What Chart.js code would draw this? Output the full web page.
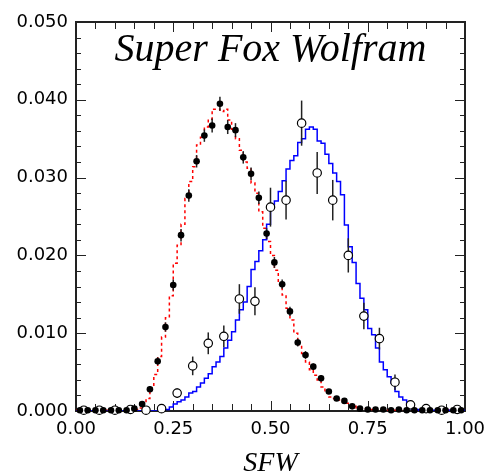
<!DOCTYPE html>
<html>
<head>
<meta charset="utf-8">
<script src="https://cdn.jsdelivr.net/npm/chart.js@4.4.1/dist/chart.umd.min.js"></script>
<style>
  html, body { margin: 0; padding: 0; background: #fff; }
  canvas { display: block; }
</style>
</head>
<body>
<canvas id="c" width="487" height="475"></canvas>
<script>
// histogram bins (MC), width 0.01, left edge = index * 0.01
const redHist = [
  0.0001,0.0001,0.0001,0.0001,0.0001,0.0001,0.0001,0.0001,0.0001,0.0001,
  0.0001,0.0001,0.0001,0.0001,0.0001,0.0002,0.0004,0.0009,0.0016,0.0030,
  0.0047,0.0070,0.0095,0.0120,0.0148,0.0190,0.0213,0.0240,0.0273,0.0295,
  0.0314,0.0342,0.0352,0.0365,0.0375,0.0388,0.0388,0.0385,0.0388,0.0374,
  0.0362,0.0350,0.0335,0.0320,0.0312,0.0293,0.0280,0.0256,0.0235,0.0218,
  0.0200,0.0181,0.0164,0.0149,0.0132,0.0117,0.0100,0.0085,0.0074,0.0063,
  0.0053,0.0046,0.0040,0.0031,0.0025,0.0018,0.0016,0.0014,0.0012,0.0010,
  0.0008,0.0006,0.0004,0.0003,0.0003,0.0002,0.0002,0.0001,0.0001,0.0001,
  0.0001,0.0001,0.0001,0.0001,0.0001,0.0001,0.0001,0.0001,0.0001,0.0001,
  0.0001,0.0001,0.0001,0.0001,0.0001,0.0001,0.0001,0.0001,0.0001,0.0001
];
const blueHist = [
  0,0,0,0,0,0,0,0,0,0,
  0,0,0,0,0,0,0,0,0,0,
  0,0,0.0002,0.0002,0.0005,0.0009,0.0012,0.0014,0.0018,0.0023,
  0.0025,0.0031,0.0036,0.0042,0.0048,0.0057,0.0063,0.0070,0.0081,0.0091,
  0.0102,0.0117,0.0130,0.0140,0.0160,0.0182,0.0192,0.0206,0.0220,0.0240,
  0.0265,0.0270,0.0282,0.0296,0.0311,0.0322,0.0328,0.0345,0.0350,0.0362,
  0.0365,0.0362,0.0347,0.0344,0.0330,0.0318,0.0306,0.0295,0.0278,0.0239,
  0.0211,0.0191,0.0164,0.0145,0.0130,0.0106,0.0098,0.0081,0.0063,0.0053,
  0.0044,0.0036,0.0025,0.0018,0.0014,0.0010,0.0003,0.0002,0.0001,0.0001,
  0.0001,0.0001,0.0001,0.0001,0.0001,0.0001,0.0001,0.0001,0.0001,0.0001
];
const histBinWidth = 0.01;

// filled points, centres 0.01, 0.03 ... 0.99
const filledY = [
  0.0001,0.0001,0.0001,0.0001,0.0001,0.0001,0.0001,0.0003,0.0009,0.0028,
  0.0064,0.0108,0.0162,0.0226,0.0277,0.0321,0.0354,0.0367,0.0395,0.0365,
  0.0361,0.0326,0.0305,0.0274,0.0228,0.0191,0.0163,0.0128,0.0088,0.0072,
  0.0057,0.0042,0.0025,0.0016,0.0013,0.0006,0.0003,0.0002,0.0002,0.0002,
  0.0001,0.0002,0.0001,0.0001,0.0001,0.0001,0.0001,0.0001,0.0001,0.0001
];
const filledErr = [
  0.0001,0.0001,0.0001,0.0001,0.0001,0.0001,0.0001,0.0002,0.0003,0.0004,
  0.0005,0.0006,0.0007,0.0008,0.0008,0.0008,0.0008,0.0009,0.0009,0.0009,
  0.0009,0.0008,0.0008,0.0008,0.0007,0.0007,0.0006,0.0006,0.0005,0.0005,
  0.0004,0.0004,0.0003,0.0003,0.0002,0.0002,0.0001,0.0001,0.0001,0.0001,
  0.0001,0.0001,0.0001,0.0001,0.0001,0.0001,0.0001,0.0001,0.0001,0.0001
];
const filledX = filledY.map((_, i) => 0.01 + i * 0.02);

// open circles, centres 0.02, 0.06 ... 0.98
const openY = [
  0.0001,0.0001,0.0001,0.0002,0.0001,0.0003,0.0023,0.0058,0.0087,0.0096,
  0.0144,0.0141,0.0262,0.0271,0.0370,0.0306,0.0271,0.0200,0.0122,0.0093,
  0.0037,0.0008,0.0003,0.0001,0.0002
];
const openErr = [
  0.0002,0.0002,0.0002,0.0002,0.0002,0.0002,0.0006,0.0012,0.0014,0.0014,
  0.0019,0.0018,0.0025,0.0025,0.0029,0.0027,0.0026,0.0022,0.0017,0.0014,
  0.0010,0.0005,0.0003,0.0002,0.0002
];
const openX = openY.map((_, i) => 0.02 + i * 0.04);

const xMajor = 0.25, xMinor = 0.05;
const yMajor = 0.01, yMinor = 0.002;

function histPoints(vals) {
  const pts = vals.map((v, i) => ({ x: i * histBinWidth, y: v }));
  pts.push({ x: vals.length * histBinWidth, y: vals[vals.length - 1] });
  return pts;
}

const errorBars = {
  id: 'errorBars',
  beforeDatasetDraw(chart, args) {
    const ds = chart.data.datasets[args.index];
    if (!ds.errs) return;
    const { ctx, scales: { x, y } } = chart;
    ctx.save();
    ctx.strokeStyle = '#222';
    ctx.lineWidth = 1.5;
    ds.data.forEach((p, i) => {
      const e = ds.errs[i];
      const px = x.getPixelForValue(p.x);
      ctx.beginPath();
      ctx.moveTo(px, y.getPixelForValue(Math.max(0, p.y - e)));
      ctx.lineTo(px, y.getPixelForValue(p.y + e));
      ctx.stroke();
    });
    ctx.restore();
  }
};

const frame = {
  id: 'frame',
  beforeDatasetsDraw(chart) {
    const { ctx, chartArea: a, scales: { x, y } } = chart;
    ctx.save();
    ctx.strokeStyle = '#222';
    ctx.lineWidth = 1;
    ctx.beginPath();
    for (let k = 0; k * xMinor <= x.max + 1e-9; k++) {
      const v = k * xMinor;
      const px = Math.round(x.getPixelForValue(v)) + 0.5;
      const len = Math.abs(v / xMajor - Math.round(v / xMajor)) < 1e-6 ? 10 : 7;
      ctx.moveTo(px, a.bottom); ctx.lineTo(px, a.bottom - len);
      ctx.moveTo(px, a.top); ctx.lineTo(px, a.top + len);
    }
    for (let k = 0; k * yMinor <= y.max + 1e-9; k++) {
      const v = k * yMinor;
      const py = Math.round(y.getPixelForValue(v)) + 0.5;
      const len = Math.abs(v / yMajor - Math.round(v / yMajor)) < 1e-6 ? 10 : 5;
      ctx.moveTo(a.left, py); ctx.lineTo(a.left + len, py);
      ctx.moveTo(a.right, py); ctx.lineTo(a.right - len, py);
    }
    ctx.stroke();
    ctx.lineWidth = 2;
    ctx.strokeRect(a.left, a.top, a.right - a.left, a.bottom - a.top);
    ctx.restore();
  },
  afterDraw(chart) {
    const { ctx, chartArea: a } = chart;
    ctx.save();
    ctx.fillStyle = '#000';
    ctx.font = 'italic 40px "Liberation Serif"';
    ctx.textAlign = 'center';
    ctx.textBaseline = 'alphabetic';
    ctx.fillText('Super Fox Wolfram', (a.left + a.right) / 2, a.top + 39);
    ctx.restore();
  }
};

const tickFont = { family: 'DejaVu Sans', size: 18 };

new Chart(document.getElementById('c'), {
  type: 'scatter',
  data: {
    datasets: [
      {
        label: 'data', data: filledX.map((x, i) => ({ x: x, y: filledY[i] })), errs: filledErr,
        pointRadius: 3.3, backgroundColor: '#000', borderColor: '#000', borderWidth: 0,
        order: 1, clip: false
      },
      {
        label: 'open', data: openX.map((x, i) => ({ x: x, y: openY[i] })), errs: openErr,
        pointRadius: 4.2, backgroundColor: '#fff', borderColor: '#000', borderWidth: 1.2,
        order: 2, clip: false
      },
      {
        type: 'line', label: 'blue', data: histPoints(blueHist), stepped: true,
        borderColor: '#0000ff', borderWidth: 1.5, pointRadius: 0, fill: false, order: 3
      },
      {
        type: 'line', label: 'red', data: histPoints(redHist), stepped: true,
        borderColor: '#ff0000', borderWidth: 1.5, borderDash: [3, 3], pointRadius: 0, fill: false, order: 4
      }
    ]
  },
  options: {
    responsive: false,
    animation: false,
    layout: { padding: { left: 0, right: 22, top: 22, bottom: 0 } },
    plugins: { legend: { display: false }, tooltip: { enabled: false } },
    scales: {
      x: {
        type: 'linear', min: 0, max: 1,
        grid: { display: false, drawTicks: false },
        border: { display: false },
        ticks: { stepSize: xMajor, padding: 8, color: '#000', font: tickFont, maxRotation: 0,
                 callback: v => v.toFixed(2) },
        title: { display: true, text: 'SFW', color: '#000', padding: 0,
                 font: { family: 'Liberation Serif', style: 'italic', size: 28, lineHeight: 0.8 } },
        afterFit: s => { s.height = 64; s.paddingLeft = 0; s.paddingRight = 0; }
      },
      y: {
        min: 0, max: 0.05,
        grid: { display: false, drawTicks: false },
        border: { display: false },
        ticks: { stepSize: yMajor, padding: 8, color: '#000', font: tickFont,
                 callback: v => v.toFixed(3) },
        afterFit: s => { s.width = 76; }
      }
    }
  },
  plugins: [errorBars, frame]
});
</script>
</body>
</html>
